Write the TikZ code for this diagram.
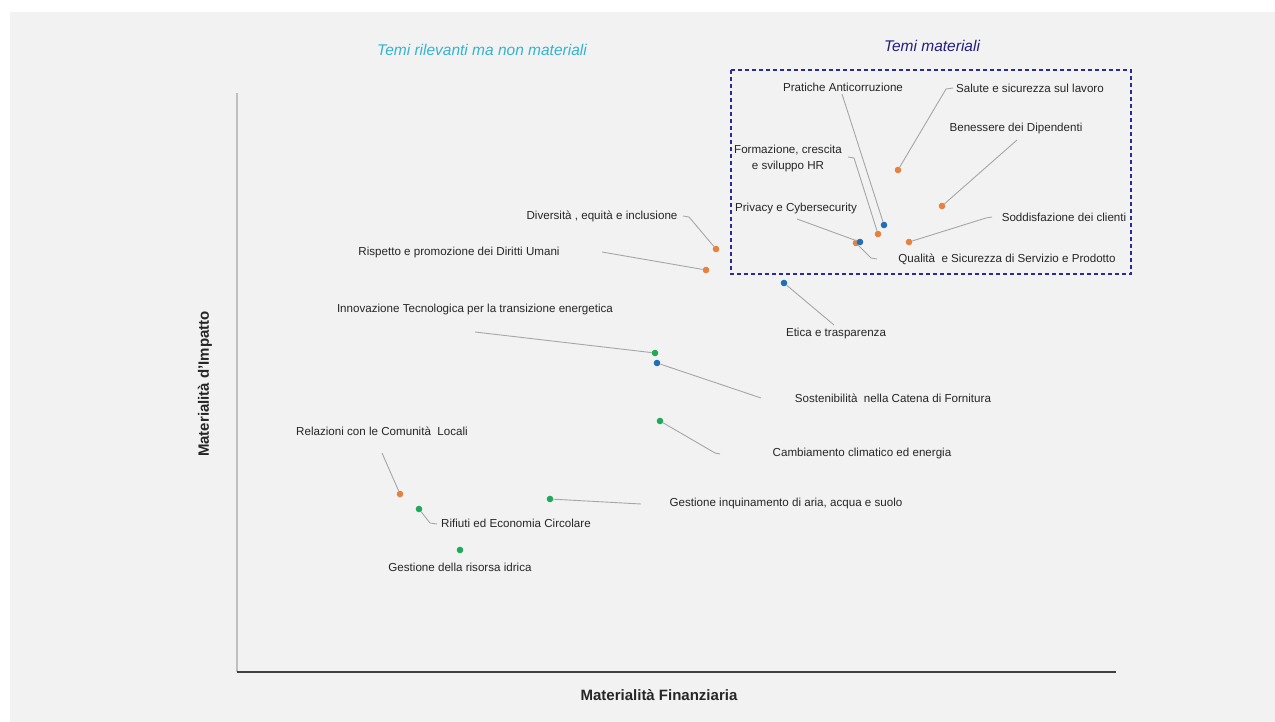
\documentclass[tikz,border=0pt]{standalone}
\usepackage{fontspec}
\setmainfont{Liberation Sans}
\definecolor{panelgrey}{HTML}{F2F2F2}
\definecolor{dotorange}{HTML}{E8803E}
\definecolor{dotblue}{HTML}{1F70B8}
\definecolor{dotgreen}{HTML}{1FAA59}
\definecolor{titlecyan}{HTML}{35B3D0}
\definecolor{titlenavy}{HTML}{211E80}
\definecolor{boxnavy}{HTML}{2A2A9A}
\definecolor{leadergrey}{HTML}{A6A6A6}

\begin{document}
\begin{tikzpicture}[x=1pt,y=-1pt,
	lab/.style={font=\fontsize{11.6}{16}\selectfont,text=black!85,inner sep=0pt},
	dot/.style={circle,inner sep=0pt,minimum size=6.6pt},
	leader/.style={leadergrey,line width=0.9pt}]
	\useasboundingbox (0,0) rectangle (1275,722);
	\fill[panelgrey] (10,12) rectangle (1275,722);
	
	% axes and titles
	\draw[black!25,line width=1.2pt] (237,93) coordinate (yTop) -- (237,672) coordinate (orig);
	\draw[black!75,line width=1.5pt] (orig) -- (1116,672) coordinate (xEnd);
	\node[font=\fontsize{15}{18}\selectfont\bfseries,text=black!85] (xLab) at (659,695) {Materialità Finanziaria};
	\node[font=\fontsize{15}{18}\selectfont\bfseries,text=black!85,rotate=90] (yLab) at (205,384) {Materialità d'Impatto};
	\node[font=\fontsize{15.5}{18}\selectfont\itshape,text=titlecyan] (tNonMat) at (482,50) {Temi rilevanti ma non materiali};
	\node[font=\fontsize{15.5}{18}\selectfont\itshape,text=titlenavy] (tMat) at (932,46) {Temi materiali};
	\draw[boxnavy,line width=1.1pt,dash pattern=on 4pt off 3pt] (731,70) rectangle (1131,274);
	
	% topics
	\node[dot,fill=dotorange] (dSalute) at (898,170) {};
	\node[dot,fill=dotorange] (dBenessere) at (942,206) {};
	\node[dot,fill=dotblue] (dPratiche) at (884,225) {};
	\node[dot,fill=dotorange] (dFormazione) at (878,234) {};
	\node[dot,fill=dotorange] (dQualita) at (856,243) {};
	\node[dot,fill=dotblue] (dPrivacy) at (860,242) {};
	\node[dot,fill=dotorange] (dSoddisf) at (909,242) {};
	\node[dot,fill=dotorange] (dDiversita) at (716,249) {};
	\node[dot,fill=dotorange] (dRispetto) at (706,270) {};
	\node[dot,fill=dotblue] (dEtica) at (784,283) {};
	\node[dot,fill=dotgreen] (dInnovazione) at (655,353) {};
	\node[dot,fill=dotblue] (dSostenib) at (657,363) {};
	\node[dot,fill=dotgreen] (dClima) at (660,421) {};
	\node[dot,fill=dotorange] (dRelazioni) at (400,494) {};
	\node[dot,fill=dotgreen] (dInquin) at (550,499) {};
	\node[dot,fill=dotgreen] (dRifiuti) at (419,509) {};
	\node[dot,fill=dotgreen] (dIdrica) at (460,550) {};
	
	\node[lab] (lPratiche) at (843,87) {Pratiche Anticorruzione};
	\node[lab] (lSalute) at (1030,88) {Salute e sicurezza sul lavoro};
	\node[lab] (lBenessere) at (1016,129) {Benessere dei Dipendenti};
	\node[lab,align=center] (lFormazione) at (788,159) {Formazione, crescita\\e sviluppo HR};
	\node[lab] (lPrivacy) at (796,209) {Privacy e Cybersecurity};
	\node[lab] (lSoddisf) at (1064,217) {Soddisfazione dei clienti};
	\node[lab] (lQualita) at (1007,259) {Qualità\ \ e Sicurezza di Servizio e Prodotto};
	\node[lab] (lDiversita) at (602,216) {Diversità , equità e inclusione};
	\node[lab] (lRispetto) at (459,253) {Rispetto e promozione dei Diritti Umani};
	\node[lab] (lEtica) at (836,334) {Etica e trasparenza};
	\node[lab] (lInnovazione) at (475,310) {Innovazione Tecnologica per la transizione energetica};
	\node[lab] (lSostenib) at (893,398) {Sostenibilità\ \ nella Catena di Fornitura};
	\node[lab] (lClima) at (862,453) {Cambiamento climatico ed energia};
	\node[lab] (lRelazioni) at (382,431) {Relazioni con le Comunità\ \ Locali};
	\node[lab] (lInquin) at (786,503) {Gestione inquinamento di aria, acqua e suolo};
	\node[lab] (lRifiuti) at (516,523) {Rifiuti ed Economia Circolare};
	\node[lab] (lIdrica) at (460,567) {Gestione della risorsa idrica};
	
	% leader lines
	\draw[leader] (953,88) coordinate (eSalute) -- (946,89) -- (dSalute);
	\draw[leader] (1017,140) coordinate (eBenessere) -- (dBenessere);
	\draw[leader] (842,94) coordinate (ePratiche) -- (dPratiche);
	\draw[leader] (848,157) coordinate (eFormazione) -- (854,158) -- (dFormazione);
	\draw[leader] (797,219) coordinate (ePrivacy) -- (dPrivacy);
	\draw[leader] (877,259) coordinate (eQualita) -- (871,258) -- (dQualita);
	\draw[leader] (992,217) coordinate (eSoddisf) -- (986,218) -- (dSoddisf);
	\draw[leader] (683,216) coordinate (eDiversita) -- (689,217) -- (dDiversita);
	\draw[leader] (602,252) coordinate (eRispetto) -- (dRispetto);
	\draw[leader] (834,325) coordinate (eEtica) -- (dEtica);
	\draw[leader] (475,332) coordinate (eInnovazione) -- (dInnovazione);
	\draw[leader] (761,398) coordinate (eSostenib) -- (dSostenib);
	\draw[leader] (720,454) coordinate (eClima) -- (715,453) -- (dClima);
	\draw[leader] (382,453) coordinate (eRelazioni) -- (dRelazioni);
	\draw[leader] (641,504) coordinate (eInquin) -- (dInquin);
	\draw[leader] (437,524) coordinate (eRifiuti) -- (430,523) -- (dRifiuti);
\end{tikzpicture}
\end{document}
